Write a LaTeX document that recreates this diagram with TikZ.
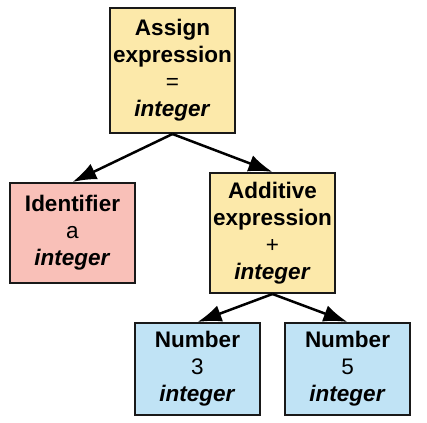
\documentclass[tikz,border=0pt]{standalone}
\usepackage{fontspec}
\setmainfont{Liberation Sans}
\usetikzlibrary{arrows.meta}
\definecolor{exprfill}{RGB}{252,233,170}
\definecolor{identfill}{RGB}{249,192,184}
\definecolor{numfill}{RGB}{192,227,245}
\tikzstyle{block} = [rectangle, draw=black!90, line width=2pt, minimum width=125pt, align=center, inner sep=0pt, font=\fontsize{22.5}{27}\selectfont]
\tikzstyle{expr} = [block, fill=exprfill]
\tikzstyle{ident} = [block, fill=identfill]
\tikzstyle{num} = [block, fill=numfill]
\newcommand{\kind}[1]{\textbf{#1}}
\newcommand{\typ}[1]{\textbf{\textit{#1}}}

\begin{document}
\begin{tikzpicture}[x=1pt, y=-1pt, >={Latex[length=24pt,width=17pt]}]
        \useasboundingbox (0,0) rectangle (427,422);
        \node[expr, minimum height=125pt] (assign) at (172.5,70.5){\kind{Assign}\\\kind{expression}\\=\\\typ{integer}};
        \node[ident, minimum height=100pt] (ident) at (72.5,233){\kind{Identifier}\\a\\\typ{integer}};
        \node[expr, minimum height=120pt] (additive) at (272.5,233){\kind{Additive}\\\kind{expression}\\+\\\typ{integer}};
        \node[num, minimum height=92pt] (three) at (197.5,369){\kind{Number}\\3\\\typ{integer}};
        \node[num, minimum height=92pt] (five) at (347.5,369){\kind{Number}\\5\\\typ{integer}};

        \draw[->, line width=2.5pt] (assign.south) -- (ident.north);
        \draw[->, line width=2.5pt] (assign.south) -- (additive.north);
        \draw[->, line width=2.5pt] (additive.south) -- (three.north);
        \draw[->, line width=2.5pt] (additive.south) -- (five.north);
    \end{tikzpicture}
\end{document}
